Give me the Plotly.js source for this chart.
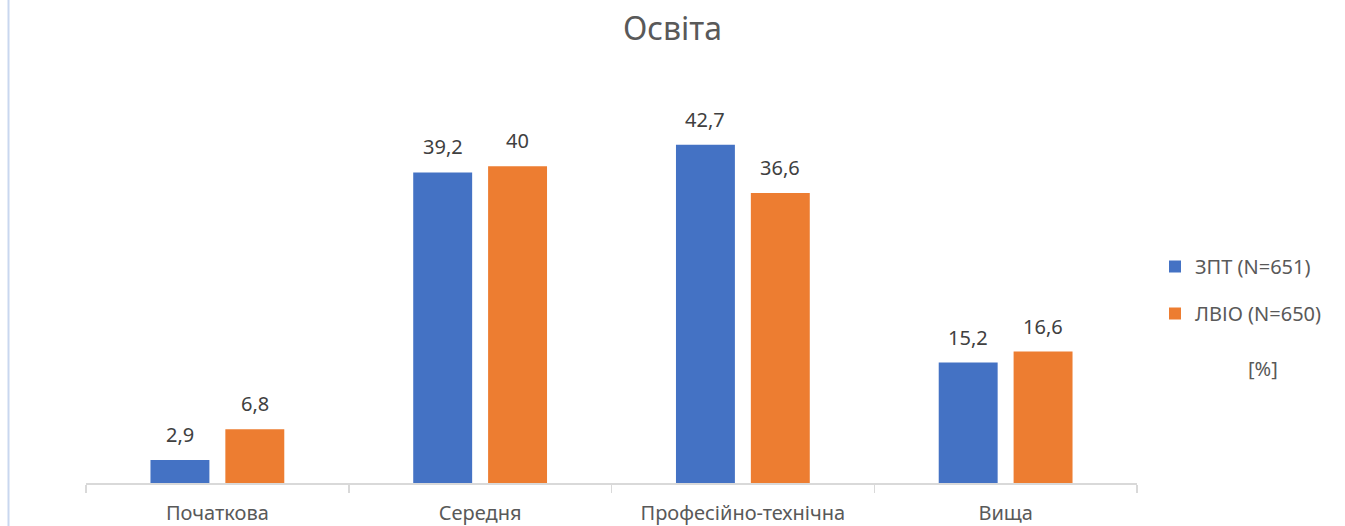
<!DOCTYPE html>
<html><head><meta charset="utf-8">
<script src="https://cdn.plot.ly/plotly-3.0.1.min.js"></script>
<style>html,body{margin:0;padding:0;background:#fff;}#chart{width:1345px;height:526px;}</style>
</head><body><div id="chart"></div>
<script>
const categories = ["Початкова", "Середня", "Професійно-технічна", "Вища"];
const seriesNames = ["ЗПТ (N=651)", "ЛВІО (N=650)"];
const zpt = [2.9, 39.2, 42.7, 15.2];
const lvio = [6.8, 40, 36.6, 16.6];
const colors = ["#4472C4", "#ED7D31"];
const fmt = v => String(v).replace('.', ',');
const FF = "Noto Sans, Open Sans, sans-serif";
const traces = [zpt, lvio].map((vals, i) => ({
  type: "bar", x: categories, y: vals, name: seriesNames[i],
  legendgroup: "g" + i,
  marker: {color: colors[i]},
  hoverinfo: "skip"
}));
const offsets = [-0.1426, 0.1426];
const annotations = [];
[zpt, lvio].forEach((vals, i) => vals.forEach((v, j) => annotations.push({
  xref: "x", yref: "y", x: j + offsets[i], y: v, text: fmt(v), showarrow: false,
  xanchor: "center", yanchor: "bottom", yshift: 10,
  font: {family: FF, size: 20, color: "#404040"}
})));
annotations.push({xref: "paper", yref: "paper", x: (1263 - 86) / 1051, y: (483 - 368) / 423, text: "[%]", showarrow: false,
                 font: {family: FF, size: 20, color: "#595959"}, xanchor: "center", yanchor: "middle"});
const layout = {
  width: 1345, height: 526,
  margin: {l: 86, r: 208, t: 60, b: 43},
  paper_bgcolor: "#fff", plot_bgcolor: "#fff",
  font: {family: FF, color: "#595959"},
  title: {text: "Освіта", font: {size: 32, color: "#595959"}, x: 0.5, xanchor: "center", y: 0.945, yanchor: "middle"},
  barmode: "group", bargap: 0.43, bargroupgap: 0.213,
  xaxis: {showline: true, linecolor: "#d9d9d9", linewidth: 1.5, ticks: "outside", ticklen: 8, tickcolor: "#d9d9d9", tickwidth: 1.5,
          tickson: "boundaries", tickfont: {size: 20, color: "#595959"}, ticklabelstandoff: 11, fixedrange: true},
  yaxis: {range: [0, 53.4], visible: false, showgrid: false, zeroline: false, fixedrange: true},
  showlegend: true,
  legend: {x: (1155 - 86) / 1051, xanchor: "left", y: (483 - 290) / 423, yanchor: "middle", font: {size: 20, color: "#595959"},
           traceorder: "grouped", tracegroupgap: 18, itemwidth: 30},
  annotations: annotations,
  shapes: [{type: "line", xref: "paper", yref: "paper", x0: (8.5 - 86) / 1051, x1: (8.5 - 86) / 1051, y0: -43 / 423, y1: 483 / 423,
            line: {color: "#c9d7ef", width: 2}}]
};
Plotly.newPlot("chart", traces, layout, {displayModeBar: false, staticPlot: true});
</script></body></html>
